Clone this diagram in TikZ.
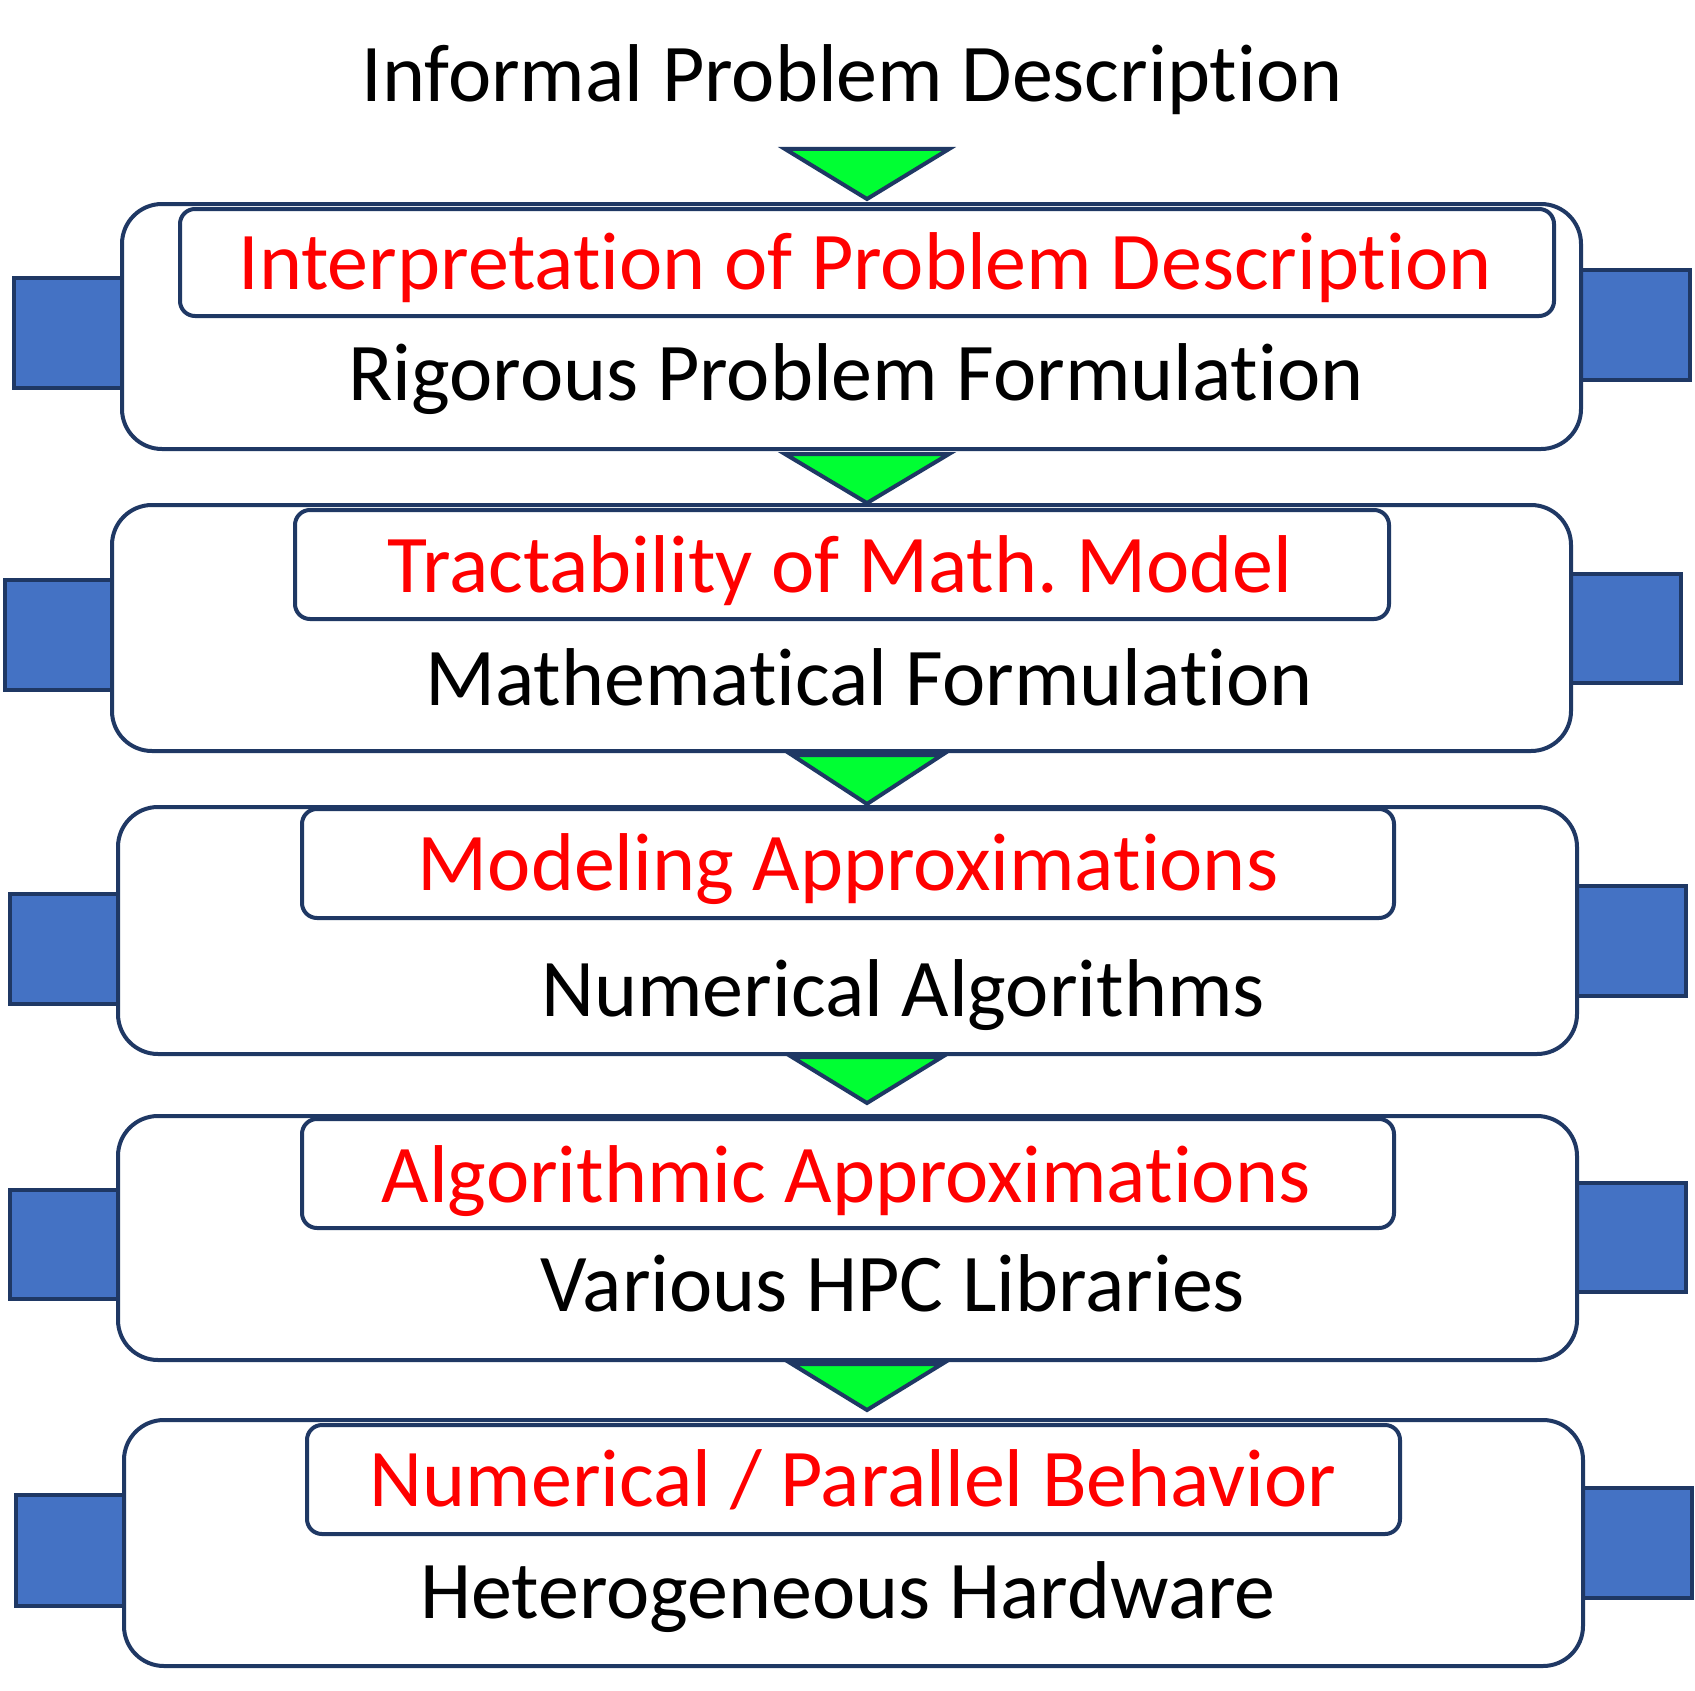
\documentclass[tikz,border=0pt]{standalone}
\usepackage{fontspec}
\setmainfont{Carlito}[Ligatures=NoCommon]
\usetikzlibrary{fit}
\definecolor{navy}{RGB}{31,56,100}
\definecolor{bluefill}{RGB}{68,114,196}
\definecolor{arrowgreen}{RGB}{0,255,51}
\definecolor{redtxt}{RGB}{255,0,0}
\newcommand\nolig{\kern0pt }
\frenchspacing
\begin{document}
\begin{tikzpicture}[x=1pt,y=-1pt,
  outerbox/.style={draw=navy, line width=4pt, fill=white, rounded corners=40pt, inner sep=0pt},
  innerbox/.style={draw=navy, line width=4pt, fill=white, rounded corners=15pt, inner sep=0pt},
  sidebox/.style={draw=navy, line width=4pt, fill=bluefill, inner sep=0pt},
  flowarrow/.style={draw=navy, line width=4pt, fill=arrowgreen, line join=miter},
  lbl/.style={font=\fontsize{82}{90}\selectfont, anchor=base, inner sep=0pt},
  redlbl/.style={lbl, text=redtxt}]
\useasboundingbox (0,0) rectangle (1695,1691);
\fill[white] (0,0) rectangle (1695,1691);

% side boxes
\node[sidebox, fit={(14,278) (122,388)}] (l1) {};
\node[sidebox, fit={(1581,270) (1690,380)}] (r1) {};
\node[sidebox, fit={(5,580) (112,690)}] (l2) {};
\node[sidebox, fit={(1571,574) (1681,683)}] (r2) {};
\node[sidebox, fit={(10,894) (118,1004)}] (l3) {};
\node[sidebox, fit={(1577,886) (1686,996)}] (r3) {};
\node[sidebox, fit={(10,1190) (118,1299)}] (l4) {};
\node[sidebox, fit={(1577,1183) (1686,1292)}] (r4) {};
\node[sidebox, fit={(16,1495) (124,1606)}] (l5) {};
\node[sidebox, fit={(1583,1488) (1692,1598)}] (r5) {};

% outer boxes
\node[outerbox, fit={(122,204) (1581,449)}] (b1) {};
\node[outerbox, fit={(112,505) (1571,751)}] (b2) {};
\node[outerbox, fit={(118,807) (1577,1054)}] (b3) {};
\node[outerbox, fit={(118,1116) (1577,1360)}] (b4) {};
\node[outerbox, fit={(124,1420) (1583,1666)}] (b5) {};

% inner boxes
\node[innerbox, fit={(180,209) (1554,316)}] (i1) {};
\node[innerbox, fit={(295,510) (1389,619)}] (i2) {};
\node[innerbox, fit={(302,809) (1394,918)}] (i3) {};
\node[innerbox, fit={(302,1119) (1394,1228)}] (i4) {};
\node[innerbox, fit={(307,1425) (1400,1534)}] (i5) {};

% flow arrows
\draw[flowarrow] (785,149) -- (949,149) -- (867,199) -- cycle;
\draw[flowarrow] (785,454) -- (949,454) -- (867,503) -- cycle;
\draw[flowarrow] (792,755) -- (942,755) -- (867,804) -- cycle;
\draw[flowarrow] (792,1057) -- (942,1057) -- (867,1103) -- cycle;
\draw[flowarrow] (792,1364) -- (942,1364) -- (867,1410) -- cycle;

% texts
\node[lbl] (title) at (852,102) {Informal Problem Descript\nolig ion};
\node[redlbl] (t1) at (865,289) {Interpretat\nolig ion of Problem Descript\nolig ion};
\node[lbl] (s1) at (856,400) {Rigorous Problem Formulat\nolig ion};
\node[redlbl] (t2) at (840,592) {Tractability of Math. Model};
\node[lbl] (s2) at (869,705) {Mathemat\nolig ical Formulat\nolig ion};
\node[redlbl] (t3) at (848,890) {Modeling Approximat\nolig ions};
\node[lbl] (s3) at (903,1016) {Numerical Algorithms};
\node[redlbl] (t4) at (846,1202) {Algorithmic Approximat\nolig ions};
\node[lbl] (s4) at (893,1311) {Various HPC Libraries};
\node[redlbl] (t5) at (853,1506) {Numerical / Parallel Behavior};
\node[lbl] (s5) at (848,1618) {Heterogeneous Hardware};
\end{tikzpicture}
\end{document}
